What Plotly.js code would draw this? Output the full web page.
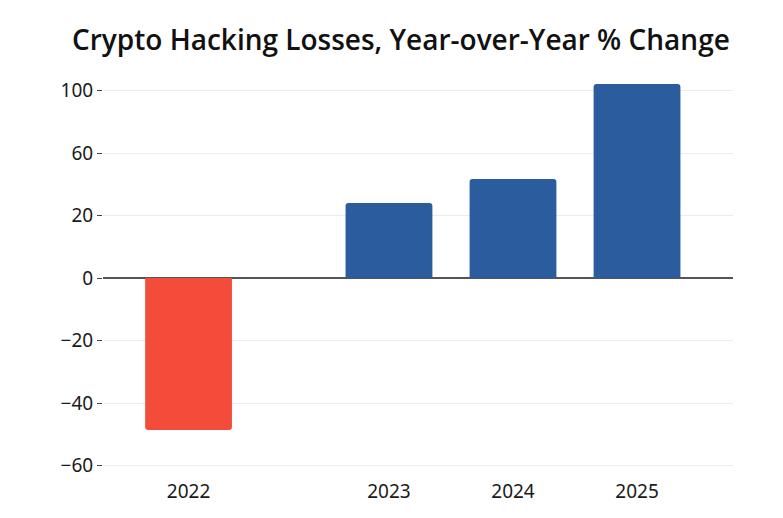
<!DOCTYPE html>
<html>
<head>
<meta charset="utf-8">
<script src="https://cdn.plot.ly/plotly-3.0.1.min.js"></script>
<style>html,body{margin:0;padding:0;background:#fff;}#chart{width:783px;height:518px;}</style>
</head>
<body>
<div id="chart"></div>
<script>
// Data (values in axis units)
const lossYears = ["2022"];
const lossValues = [-48.6];
const gainYears = ["2023", "2024", "2025"];
const gainValues = [24.0, 31.7, 62.1];
// Tick labels as printed on the reference axis
const yTickVals = [-60, -40, -20, 0, 20, 40, 60];
const yTickText = ["−60", "−40", "−20", "0", "20", "60", "100"];

const tickFont = {family: "Noto Sans, Open Sans, sans-serif", size: 19, color: "#1a1a1a"};

const traces = [
  {
    type: "bar", x: gainYears, y: gainValues, xaxis: "x", yaxis: "y",
    width: 0.7,
    marker: {color: "#2A5C9E", cornerradius: 3, line: {width: 0}},
    hoverinfo: "x+y", showlegend: false
  },
  {
    type: "bar", x: lossYears, y: lossValues, xaxis: "x2", yaxis: "y",
    width: 0.7,
    marker: {color: "#F44C3A", cornerradius: 3, line: {width: 0}},
    hoverinfo: "x+y", showlegend: false
  }
];

const layout = {
  width: 783, height: 518,
  margin: {l: 103, r: 50, t: 70, b: 40},
  paper_bgcolor: "#fff", plot_bgcolor: "#fff",
  barmode: "overlay",
  title: {
    text: "Crypto Hacking Losses, Year-over-Year % Change",
    font: {family: "Open Sans, sans-serif", size: 28, color: "#111", weight: 600},
    xref: "container", yref: "container",
    x: 0.512, xanchor: "center", y: 0.923, yanchor: "middle"
  },
  xaxis: {
    type: "category", range: [-2.306, 2.774],
    showgrid: false, zeroline: false, showline: false, ticks: "",
    tickfont: tickFont, fixedrange: true
  },
  xaxis2: {
    type: "category", overlaying: "x", side: "bottom", range: [-0.690, 4.391],
    showgrid: false, zeroline: false, showline: false, ticks: "",
    tickfont: tickFont, fixedrange: true
  },
  yaxis: {
    range: [-64, 66.56],
    tickmode: "array", tickvals: yTickVals, ticktext: yTickText,
    ticks: "outside", ticklen: 5, tickwidth: 1, tickcolor: "#444",
    showgrid: true, gridcolor: "#ebebeb", gridwidth: 1,
    zeroline: true, zerolinecolor: "#555", zerolinewidth: 1.5,
    showline: false, tickfont: tickFont, fixedrange: true
  },
  font: {family: "Noto Sans, sans-serif", color: "#222"}
};

Plotly.newPlot("chart", traces, layout, {displayModeBar: false, staticPlot: true});
</script>
</body>
</html>
